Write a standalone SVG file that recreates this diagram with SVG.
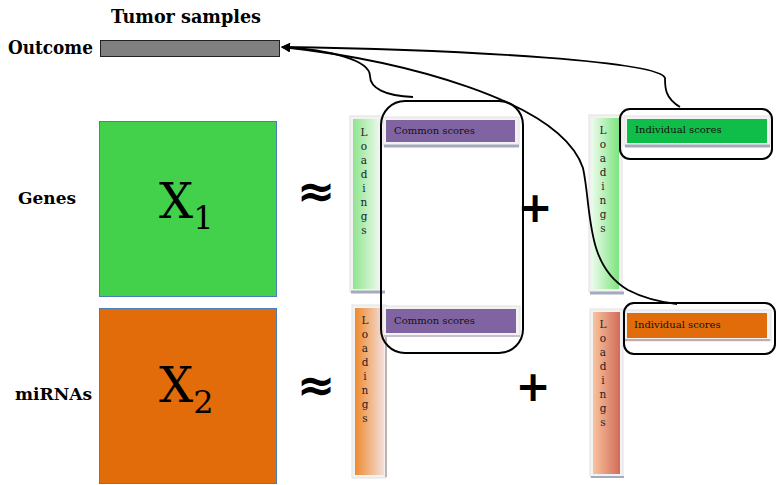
<svg xmlns="http://www.w3.org/2000/svg" width="776" height="485" viewBox="0 0 776 485">
  <defs>
    <style>
      .lbl { font-family: "DejaVu Serif", "Liberation Serif", serif; font-weight: bold; fill: #000; }
      .mx { font-family: "DejaVu Serif", "Liberation Serif", serif; fill: #000; }
      .ld { font-family: "DejaVu Serif", "Liberation Serif", serif; font-size: 10.5px; fill: #222; text-anchor: middle; }
      .sc { font-family: "DejaVu Serif", "Liberation Serif", serif; font-size: 10px; fill: #111; }
      .op { font-family: "DejaVu Sans", sans-serif; font-weight: bold; fill: #000; text-anchor: middle; }
      .frame { fill: #f2f2f2; stroke: #e2e2e2; stroke-width: 1; }
      .shadow { stroke: #a3abbc; stroke-width: 3; }
      .box { fill: none; stroke: #000; stroke-width: 2; }
      .conn { fill: none; stroke: #000; stroke-width: 1.8; }
    </style>
    <linearGradient id="gLeftGreen" x1="0" y1="0" x2="1" y2="0">
      <stop offset="0" stop-color="#8fe48f"/>
      <stop offset="1" stop-color="#e4f8e4"/>
    </linearGradient>
    <linearGradient id="gRightGreen" x1="0" y1="0" x2="1" y2="0">
      <stop offset="0" stop-color="#eafbea"/>
      <stop offset="1" stop-color="#7de47e"/>
    </linearGradient>
    <linearGradient id="gLeftOrange" x1="0" y1="0" x2="1" y2="0">
      <stop offset="0" stop-color="#ee8a2e"/>
      <stop offset="1" stop-color="#f3dfdc"/>
    </linearGradient>
    <linearGradient id="gRightOrange" x1="0" y1="0" x2="1" y2="0">
      <stop offset="0" stop-color="#f8c39c"/>
      <stop offset="1" stop-color="#d26c5a"/>
    </linearGradient>
    <marker id="arrow" viewBox="0 0 10 10" refX="9" refY="5" markerWidth="5" markerHeight="5" orient="auto-start-reverse">
      <path d="M0,0 L10,5 L0,10 z" fill="#000"/>
    </marker>
  </defs>

  <rect width="776" height="485" fill="#fff"/>

  <!-- outcome row -->
  <g id="outcome">
    <text class="lbl" x="186" y="23" font-size="18" text-anchor="middle" textLength="150" lengthAdjust="spacingAndGlyphs">Tumor samples</text>
    <text class="lbl" x="8" y="54" font-size="18" textLength="85" lengthAdjust="spacingAndGlyphs">Outcome</text>
    <rect x="100.5" y="40.5" width="179" height="16" fill="#808080" stroke="#222" stroke-width="1"/>
  </g>

  <!-- data matrices -->
  <g id="genes">
    <text class="lbl" x="18" y="204" font-size="17" textLength="58" lengthAdjust="spacingAndGlyphs">Genes</text>
    <rect x="99.5" y="121.5" width="177" height="175" fill="#43d14c" stroke="#4a7ebb" stroke-width="1"/>
    <text class="mx" x="159" y="218" font-size="48">X<tspan font-size="32" dy="11">1</tspan></text>
  </g>
  <g id="mirnas">
    <text class="lbl" x="15" y="400" font-size="17" textLength="77" lengthAdjust="spacingAndGlyphs">miRNAs</text>
    <rect x="99.5" y="308.5" width="177" height="175" fill="#e36c0a" stroke="#4a7ebb" stroke-width="1"/>
    <text class="mx" x="159" y="402" font-size="48">X<tspan font-size="32" dy="11">2</tspan></text>
  </g>

  <!-- operators -->
  <g id="operators">
    <text class="op" x="316" y="207" font-size="46">≈</text>
    <text class="op" x="316" y="401" font-size="46">≈</text>
    <text class="op" x="535" y="222" font-size="42">+</text>
    <text class="op" x="533" y="401" font-size="42">+</text>
  </g>

  <!-- joint loadings, genes -->
  <g id="loadings-genes-joint">
    <rect class="frame" x="350" y="116" width="31" height="176"/>
    <rect x="353" y="119" width="25" height="170" fill="url(#gLeftGreen)"/>
    <line class="shadow" x1="351" y1="292" x2="385" y2="292"/>
    <text class="ld"><tspan x="364" y="136">L</tspan><tspan x="364" y="150">o</tspan><tspan x="364" y="164">a</tspan><tspan x="364" y="178">d</tspan><tspan x="364" y="192">i</tspan><tspan x="364" y="206">n</tspan><tspan x="364" y="220">g</tspan><tspan x="364" y="234">s</tspan></text>
  </g>
  <g id="common-genes">
    <rect class="frame" x="383" y="117" width="136" height="29"/>
    <rect x="386" y="120" width="129" height="22" fill="#8064a2"/>
    <line class="shadow" x1="384" y1="146" x2="519" y2="146"/>
    <text class="sc" x="394" y="134">Common  scores</text>
  </g>

  <!-- joint loadings, miRNAs -->
  <g id="loadings-mirnas-joint">
    <rect class="frame" x="352" y="305" width="34" height="173"/>
    <rect x="355" y="308" width="29" height="167" fill="url(#gLeftOrange)"/>
    <line x1="386" y1="307" x2="386" y2="477" stroke="#b99a9a" stroke-width="1.5"/>
    <text class="ld"><tspan x="365" y="324">L</tspan><tspan x="365" y="338">o</tspan><tspan x="365" y="352">a</tspan><tspan x="365" y="366">d</tspan><tspan x="365" y="380">i</tspan><tspan x="365" y="394">n</tspan><tspan x="365" y="408">g</tspan><tspan x="365" y="422">s</tspan></text>
  </g>
  <g id="common-mirnas">
    <rect class="frame" x="383" y="306" width="137" height="30"/>
    <rect x="386" y="309" width="130" height="24" fill="#8064a2"/>
    <line x1="384" y1="336" x2="520" y2="336" stroke="#c7c0cc" stroke-width="2"/>
    <text class="sc" x="394" y="324">Common  scores</text>
  </g>

  <!-- individual loadings, genes -->
  <g id="loadings-genes-indiv">
    <rect class="frame" x="589" y="115" width="33" height="177"/>
    <rect x="592" y="118" width="27" height="171" fill="url(#gRightGreen)"/>
    <line class="shadow" x1="590" y1="293" x2="624" y2="293"/>
    <text class="ld"><tspan x="603" y="134">L</tspan><tspan x="603" y="148">o</tspan><tspan x="603" y="162">a</tspan><tspan x="603" y="176">d</tspan><tspan x="603" y="190">i</tspan><tspan x="603" y="204">n</tspan><tspan x="603" y="218">g</tspan><tspan x="603" y="232">s</tspan></text>
  </g>
  <g id="indiv-genes">
    <rect class="frame" x="624" y="116" width="146" height="30"/>
    <rect x="627" y="119" width="140" height="24" fill="#0fbe48"/>
    <line class="shadow" x1="625" y1="146" x2="770" y2="146"/>
    <text class="sc" x="635" y="133">Individual scores</text>
  </g>

  <!-- individual loadings, miRNAs -->
  <g id="loadings-mirnas-indiv">
    <rect class="frame" x="590" y="309" width="33" height="168"/>
    <rect x="593" y="312" width="27" height="162" fill="url(#gRightOrange)"/>
    <line x1="591" y1="477" x2="624" y2="477" stroke="#a3abbc" stroke-width="2"/>
    <text class="ld"><tspan x="603" y="328">L</tspan><tspan x="603" y="342">o</tspan><tspan x="603" y="356">a</tspan><tspan x="603" y="370">d</tspan><tspan x="603" y="384">i</tspan><tspan x="603" y="398">n</tspan><tspan x="603" y="412">g</tspan><tspan x="603" y="426">s</tspan></text>
  </g>
  <g id="indiv-mirnas">
    <rect class="frame" x="624" y="310" width="147" height="31"/>
    <rect x="627" y="313" width="140" height="25" fill="#e36c0a"/>
    <line x1="625" y1="340" x2="770" y2="340" stroke="#c8a8a8" stroke-width="2"/>
    <text class="sc" x="634" y="328">Individual scores</text>
  </g>

  <!-- grouping outlines -->
  <g id="joint-group">
    <rect class="box" x="381" y="101" width="142" height="252" rx="24" ry="24"/>
  </g>
  <g id="indiv-genes-group">
    <rect class="box" x="620" y="109" width="152" height="50" rx="10" ry="10"/>
  </g>
  <g id="indiv-mirnas-group">
    <rect class="box" x="624" y="303" width="151" height="51" rx="10" ry="10"/>
  </g>

  <!-- connectors to the outcome bar -->
  <g id="connectors">
    <path class="conn" marker-end="url(#arrow)" d="M413,97 C385,96 370,88 370,76 C370,60 330,50 282,47"/>
    <path class="conn" marker-end="url(#arrow)" d="M677,304 C660,302 645,299 628,290 C585,265 592,210 583,168 C560,100 400,60 282,47"/>
    <path class="conn" marker-end="url(#arrow)" d="M680,107 C665,98 665,88 665,78 C660,62 480,50 282,47"/>
  </g>
</svg>
